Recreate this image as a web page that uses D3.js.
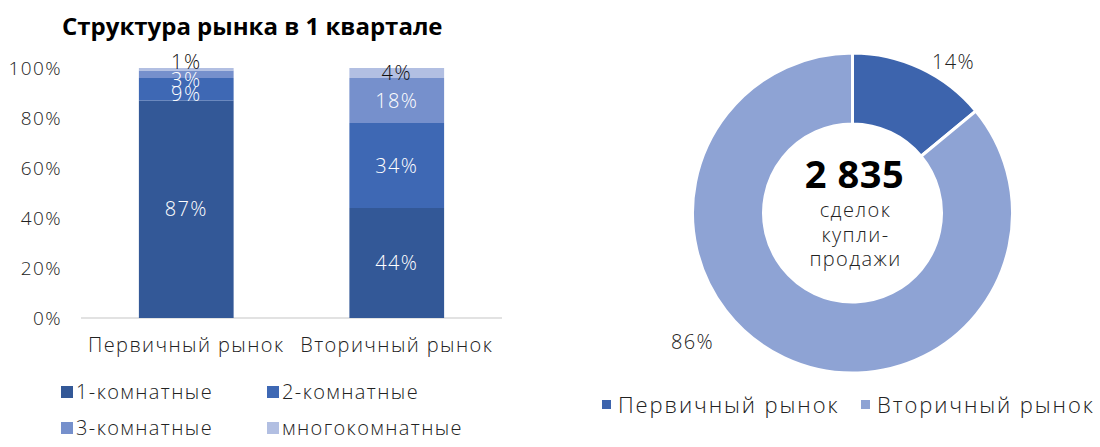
<!DOCTYPE html>
<html>
<head>
<meta charset="utf-8">
<script src="https://cdn.jsdelivr.net/npm/d3@7.9.0/dist/d3.min.js"></script>
<style>
  body { margin: 0; background: #fff; }
  svg { font-family: "Open Sans", "Noto Sans", sans-serif; font-weight: 300; }
  svg text { font-family: "Open Sans", "Noto Sans", sans-serif; letter-spacing: 1.4px; }
</style>
</head>
<body>
<svg id="chart" width="1100" height="447"></svg>
<script>
const markets = ["Первичный рынок", "Вторичный рынок"];
const roomTypes = ["1-комнатные", "2-комнатные", "3-комнатные", "многокомнатные"];
const primaryShares = [87, 9, 3, 1];
const secondaryShares = [44, 34, 18, 4];
const yTicks = [0, 20, 40, 60, 80, 100];

const dealShares = [14, 86];
const dealTotal = "2 835";
const centerLines = ["сделок", "купли-", "продажи"];

const roomColors = ["#335897", "#3e68b4", "#7690cc", "#b2bfe2"];
const marketColors = ["#3d64ad", "#8ea3d4"];

const svg = d3.select("#chart");

// ---- stacked bars ----
svg.append("text")
  .attr("x", 62).attr("y", 35)
  .style("font-weight", 700).style("font-size", "24px")
  .style("letter-spacing", "0px")
  .text("Структура рынка в 1 квартале");

const x = d3.scaleBand().domain(markets).range([81, 502]).paddingInner(0.55).paddingOuter(0.275);
const y = d3.scaleLinear().domain([0, 100]).range([318, 68]);

const rows = markets.map((m, i) => {
  const vals = i === 0 ? primaryShares : secondaryShares;
  const row = { market: m };
  roomTypes.forEach((r, j) => row[r] = vals[j]);
  return row;
});
const stacked = d3.stack().keys(roomTypes)(rows);

const yAxis = svg.append("g")
  .attr("transform", "translate(81,0)")
  .call(d3.axisLeft(y).tickValues(yTicks).tickFormat(d => d + "%").tickSize(0).tickPadding(19));
yAxis.select(".domain").remove();
yAxis.attr("font-family", null);
yAxis.selectAll("text").style("font-size", "19px").style("font-weight", 300).attr("fill", "#222");

svg.append("line")
  .attr("x1", 81).attr("x2", 502).attr("y1", y(0)).attr("y2", y(0))
  .attr("stroke", "#d9d9d9").attr("stroke-width", 1.5);

svg.append("g").selectAll("g")
  .data(stacked)
  .join("g")
  .attr("fill", (d, i) => roomColors[i])
  .selectAll("rect")
  .data(d => d)
  .join("rect")
  .attr("x", d => x(d.data.market))
  .attr("width", x.bandwidth())
  .attr("y", d => y(d[1]))
  .attr("height", d => y(d[0]) - y(d[1]));

// label nudges to keep small segments readable
const nudge = { "0-3": -7, "0-2": 6, "0-1": 5 };
const labels = [];
stacked.forEach((s, j) => s.forEach((d, i) => {
  const v = d[1] - d[0];
  labels.push({
    market: d.data.market, v,
    yc: (y(d[0]) + y(d[1])) / 2 + (nudge[i + "-" + j] || 0),
    dark: j === 3
  });
}));
svg.append("g").selectAll("text")
  .data(labels)
  .join("text")
  .attr("x", d => x(d.market) + x.bandwidth() / 2)
  .attr("y", d => d.yc)
  .attr("dy", "0.35em")
  .attr("text-anchor", "middle")
  .attr("fill", d => d.dark ? "#111" : "#fff")
  .style("font-size", "20px")
  .text(d => d.v + "%");

svg.append("g").selectAll("text")
  .data(markets)
  .join("text")
  .attr("x", d => x(d) + x.bandwidth() / 2)
  .attr("y", 345).attr("dy", "0.35em")
  .attr("text-anchor", "middle")
  .attr("fill", "#222")
  .style("font-size", "20px")
  .text(d => d);

const leg = svg.append("g").selectAll("g")
  .data(roomTypes)
  .join("g")
  .attr("transform", (d, i) => `translate(${i % 2 ? 267 : 61},${i < 2 ? 392 : 428})`);
leg.append("rect").attr("x", 0).attr("y", -6).attr("width", 12).attr("height", 12)
  .attr("fill", (d, i) => roomColors[i]);
leg.append("text").attr("x", 15).attr("dy", "0.35em")
  .attr("fill", "#222").style("font-size", "20px").text(d => d);

// ---- donut ----
const cx = 852.5, cy = 213, rOut = 160, rIn = 89;
const pie = d3.pie().sort(null)(dealShares);
const arc = d3.arc().innerRadius(rIn).outerRadius(rOut);
const donut = svg.append("g").attr("transform", `translate(${cx},${cy})`);
donut.selectAll("path")
  .data(pie)
  .join("path")
  .attr("d", arc)
  .attr("fill", (d, i) => marketColors[i])
  .attr("stroke", "#fff").attr("stroke-width", 3);

donut.selectAll("text.pct")
  .data(pie)
  .join("text")
  .attr("class", "pct")
  .attr("transform", (d, i) => i === 0 ? "translate(101,-151)" : "translate(-160,129)")
  .attr("dy", "0.35em").attr("text-anchor", "middle")
  .attr("fill", "#222").style("font-size", "20px")
  .text(d => d.data + "%");

donut.append("text")
  .attr("x", 2).attr("y", -38).attr("dy", "0.35em").attr("text-anchor", "middle")
  .style("font-weight", 700).style("font-size", "38px").style("letter-spacing", "0.5px")
  .attr("fill", "#000")
  .text(dealTotal);
donut.selectAll("text.cl")
  .data(centerLines)
  .join("text")
  .attr("class", "cl")
  .attr("x", 3).attr("y", (d, i) => -3 + i * 24.5).attr("dy", "0.35em")
  .attr("text-anchor", "middle").attr("fill", "#222").style("font-size", "20px")
  .text(d => d);

const pleg = svg.append("g").selectAll("g")
  .data(markets)
  .join("g")
  .attr("transform", (d, i) => `translate(${i ? 861 : 602},405)`);
pleg.append("rect").attr("x", 0).attr("y", -5).attr("width", 9).attr("height", 9)
  .attr("fill", (d, i) => marketColors[i]);
pleg.append("text").attr("x", 16).attr("dy", "0.35em")
  .attr("fill", "#222").style("font-size", "22px").style("letter-spacing", "1.9px").text(d => d);
</script>
</body>
</html>
